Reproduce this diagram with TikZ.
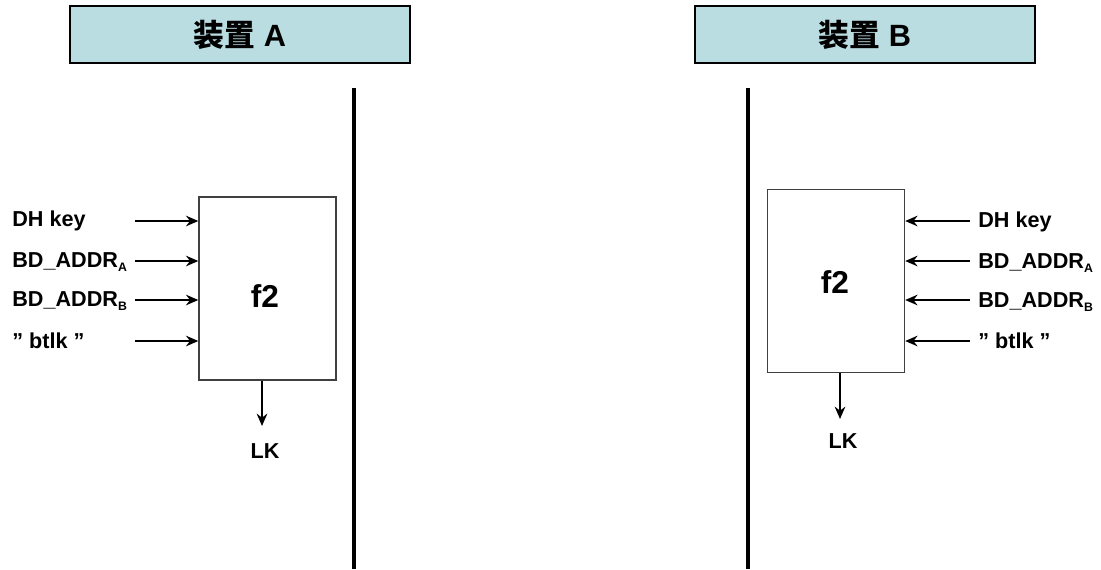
\documentclass[tikz,border=0pt]{standalone}
\usepackage{fontspec}
\setmainfont{Liberation Sans}
\newfontfamily\cjk{Noto Sans CJK SC}
\usetikzlibrary{arrows.meta}

\definecolor{headfill}{RGB}{186,221,226}
\newcommand{\addrsub}[1]{\textsubscript{\fontsize{7}{7}\selectfont #1}}

\begin{document}
\begin{tikzpicture} [
            x=0.02cm, y=-0.02cm,
            every node/.style = {font=\bfseries\fontsize{12.3}{14}\selectfont, inner sep=0pt},
            header/.style = {draw=black, line width=1.1pt, fill=headfill, minimum width=6.8cm, minimum height=1.14cm, font=\bfseries\fontsize{17.5}{20}\selectfont},
            fbox/.style = {draw=black!75, line width=0.8pt, fill=white, minimum width=2.74cm, minimum height=3.66cm},
            wire/.style = {line width=1.4pt, -{Stealth[length=7pt,width=6pt]}},
        ]

            \useasboundingbox (0,0) rectangle (1101,569);

            % device headers
            \node[header] (hA) at (240, 34.5) {{\cjk 装置} A};
            \node[header] (hB) at (865, 34.5) {{\cjk 装置} B};

            % separators
            \coordinate (sA1) at (354, 88);
            \coordinate (sA2) at (354, 569);
            \coordinate (sB1) at (748, 88);
            \coordinate (sB2) at (748, 569);
            \draw[line width=2.3pt] (sA1) -- (sA2);
            \draw[line width=2.3pt] (sB1) -- (sB2);

            % f2 blocks
            \node[fbox] (fA) at (267.5, 288.5) {};
            \node[font=\bfseries\fontsize{18}{20}\selectfont] (fA2) at (265, 296) {f2};
            \node[fbox] (fB) at (836, 281) {};
            \node[font=\bfseries\fontsize{18}{20}\selectfont] (fB2) at (835, 282) {f2};

            % inputs of A
            \node[anchor=west] (dhA) at (12, 221) {DH key};
            \node[anchor=west] (baA) at (12, 262) {BD\_ADDR\addrsub{A}};
            \node[anchor=west] (bbA) at (12, 301) {BD\_ADDR\addrsub{B}};
            \node[anchor=west] (btA) at (12, 341) {" btlk "};
            \coordinate (iA1) at (135, 221);
            \coordinate (iA2) at (135, 261);
            \coordinate (iA3) at (135, 300);
            \coordinate (iA4) at (135, 341);
            \draw[wire] (iA1) -- (fA.west |- iA1);
            \draw[wire] (iA2) -- (fA.west |- iA2);
            \draw[wire] (iA3) -- (fA.west |- iA3);
            \draw[wire] (iA4) -- (fA.west |- iA4);

            % inputs of B
            \node[anchor=west] (dhB) at (978, 222) {DH key};
            \node[anchor=west] (baB) at (978, 263) {BD\_ADDR\addrsub{A}};
            \node[anchor=west] (bbB) at (978, 302) {BD\_ADDR\addrsub{B}};
            \node[anchor=west] (btB) at (978, 341) {" btlk "};
            \coordinate (iB1) at (970, 221);
            \coordinate (iB2) at (970, 261);
            \coordinate (iB3) at (970, 300);
            \coordinate (iB4) at (970, 341);
            \draw[wire] (iB1) -- (fB.east |- iB1);
            \draw[wire] (iB2) -- (fB.east |- iB2);
            \draw[wire] (iB3) -- (fB.east |- iB3);
            \draw[wire] (iB4) -- (fB.east |- iB4);

            % link keys
            \node (lkA) at (265, 451) {LK};
            \node (lkB) at (843, 441) {LK};
            \coordinate (oA) at (262, 426);
            \coordinate (oB) at (840, 419);
            \draw[wire] (fA.south -| oA) -- (oA);
            \draw[wire] (fB.south -| oB) -- (oB);
        \end{tikzpicture}
\end{document}
